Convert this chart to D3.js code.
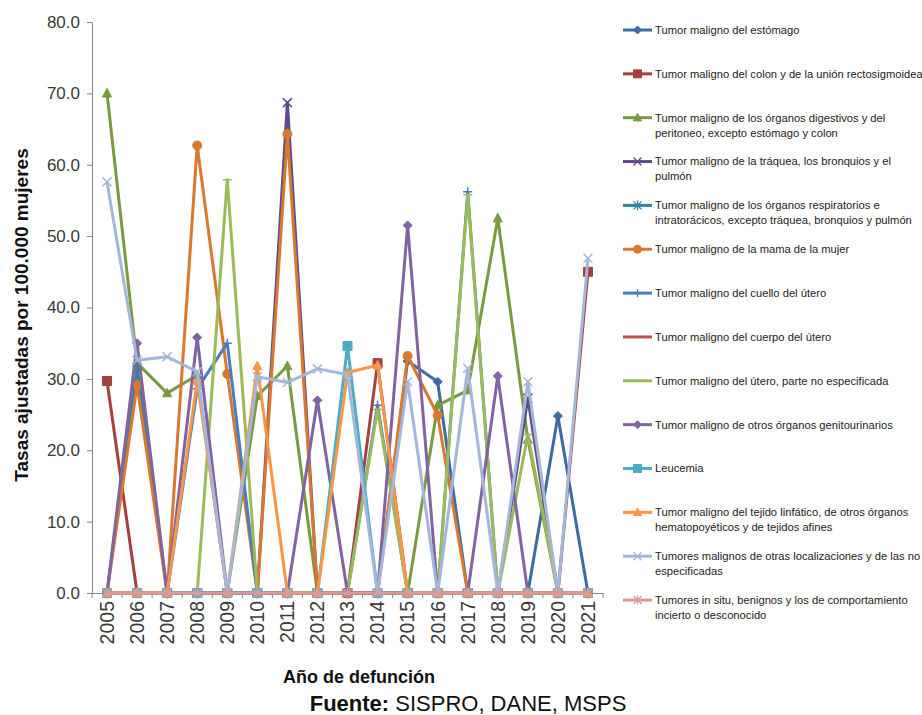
<!DOCTYPE html>
<html>
<head>
<meta charset="utf-8">
<script src="https://cdn.jsdelivr.net/npm/d3@7"></script>
<style>
  html, body { margin: 0; padding: 0; background: #fff; }
  svg { display: block; }
  text { font-family: "Liberation Sans", Arial, sans-serif; }
</style>
</head>
<body>
<svg id="chart" width="922" height="715"></svg>
<script>
const years = [2005, 2006, 2007, 2008, 2009, 2010, 2011, 2012, 2013, 2014, 2015, 2016, 2017, 2018, 2019, 2020, 2021];
const yTicks = [0, 10, 20, 30, 40, 50, 60, 70, 80];

const estomago        = [0, 0, 0, 0, 0, 0, 0, 0, 0, 0, 32.5, 29.6, 0, 0, 0, 24.8, 0];
const colon           = [29.7, 0, 0, 0, 0, 0, 0, 0, 0, 32.2, 0, 0, 0, 0, 0, 0, 45.0];
const digestivos      = [70.0, 32.2, 28.0, 30.5, 0, 27.6, 31.8, 0, 0, 0, 0, 26.3, 28.4, 52.5, 21.5, 0, 0];
const traquea         = [0, 0, 0, 0, 0, 0, 68.7, 0, 0, 0, 0, 0, 0, 0, 27.3, 0, 0];
const respiratorios   = [0, 31.6, 0, 0, 0, 0, 0, 0, 0, 0, 0, 0, 0, 0, 0, 0, 0];
const mama            = [0, 29.1, 0, 62.7, 30.7, 0, 64.3, 0, 0, 0, 33.2, 24.9, 0, 0, 0, 0, 0];
const cuello          = [0, 0, 0, 28.6, 35.0, 0, 0, 0, 0, 26.3, 0, 0, 56.2, 0, 0, 0, 0];
const cuerpo          = [0, 0, 0, 0, 0, 0, 0, 0, 0, 0, 0, 0, 0, 0, 0, 0, 0];
const uteroNoEsp      = [0, 0, 0, 0, 57.9, 0, 0, 0, 0, 25.7, 0, 0, 55.8, 0, 22.2, 0, 0];
const genitourinarios = [0, 35.0, 0, 35.8, 0, 0, 0, 27.0, 0, 0, 51.5, 0, 0, 30.4, 0, 0, 0];
const leucemia        = [0, 0, 0, 0, 0, 0, 0, 0, 34.6, 0, 0, 0, 0, 0, 0, 0, 0];
const linfatico       = [0, 0, 0, 29.7, 0, 31.8, 0, 0, 30.9, 31.9, 0, 0, 0, 0, 0, 0, 0];
const otras           = [57.6, 32.6, 33.1, 31.0, 0, 30.3, 29.5, 31.4, 30.6, 0, 29.6, 0, 31.5, 0, 29.6, 0, 46.9];
const inSitu          = [0, 0, 0, 0, 0, 0, 0, 0, 0, 0, 0, 0, 0, 0, 0, 0, 0];

const seriesNames = [
  ["Tumor maligno del estómago"],
  ["Tumor maligno del colon y de la unión rectosigmoidea"],
  ["Tumor maligno de los órganos digestivos y del", "peritoneo, excepto estómago y colon"],
  ["Tumor maligno de la tráquea, los bronquios y el", "pulmón"],
  ["Tumor maligno de los órganos respiratorios e", "intratorácicos, excepto tráquea, bronquios y pulmón"],
  ["Tumor maligno de la mama de la mujer"],
  ["Tumor maligno del cuello del útero"],
  ["Tumor maligno del cuerpo del útero"],
  ["Tumor maligno del útero, parte no especificada"],
  ["Tumor maligno de otros órganos genitourinarios"],
  ["Leucemia"],
  ["Tumor maligno del tejido linfático, de otros órganos", "hematopoyéticos y de tejidos afines"],
  ["Tumores malignos de otras localizaciones y de las no", "especificadas"],
  ["Tumores in situ, benignos y los de comportamiento", "incierto o desconocido"]
];
const seriesValues = [estomago, colon, digestivos, traquea, respiratorios, mama, cuello, cuerpo,
                      uteroNoEsp, genitourinarios, leucemia, linfatico, otras, inSitu];
const seriesColors = ["#3D6AA1", "#A5403C", "#7A9A3F", "#604A8A", "#31859C", "#D9782E", "#4A7DBF",
                      "#C0504D", "#9BBB59", "#8064A2", "#4BACC6", "#F79646", "#A4B7DA", "#DB9A99"];
const seriesMarkers = ["diamond", "square", "triangle", "x", "star", "circle", "plus",
                       "dash", "dash", "diamond", "square", "triangle", "x", "star"];

const svg = d3.select("#chart");
const plot = { left: 92, right: 603, top: 22, bottom: 593 };

const x = d3.scaleBand().domain(years).range([plot.left, plot.right]);
const y = d3.scaleLinear().domain([0, 80]).range([plot.bottom, plot.top]);
const cx = d => x(d) + x.bandwidth() / 2;

// Y axis
const yAxis = svg.append("g")
  .attr("transform", `translate(${plot.left},0)`)
  .call(d3.axisLeft(y).tickValues(yTicks).tickFormat(d3.format(".1f")).tickSize(5).tickPadding(7));
yAxis.select(".domain").attr("stroke", "#868686").attr("stroke-width", 1);
yAxis.selectAll(".tick line").attr("stroke", "#868686");
yAxis.selectAll(".tick text")
  .style("font-family", "'Liberation Sans', Arial, sans-serif")
  .attr("font-size", 17).attr("fill", "#3a3a3a");

// X axis
const xAxis = svg.append("g")
  .attr("transform", `translate(0,${plot.bottom})`)
  .call(d3.axisBottom(x).tickSize(0).tickPadding(0));
xAxis.select(".domain").attr("stroke", "#868686").attr("stroke-width", 1);
xAxis.selectAll(".tick text")
  .style("font-family", "'Liberation Sans', Arial, sans-serif")
  .attr("font-size", 19.5).attr("fill", "#3a3a3a")
  .attr("text-anchor", "end")
  .attr("transform", "rotate(-90)")
  .attr("x", -8).attr("y", 0).attr("dy", "0.35em");
// category boundary ticks
xAxis.selectAll("line.bound")
  .data(years.concat(["end"]))
  .enter().append("line")
  .attr("class", "bound")
  .attr("x1", d => d === "end" ? plot.right : x(d))
  .attr("x2", d => d === "end" ? plot.right : x(d))
  .attr("y1", 0).attr("y2", 5)
  .attr("stroke", "#868686");

// Lines
const line = d3.line().x((d, i) => cx(years[i])).y(d => y(d));

const symbolPath = (type, s) => {
  switch (type) {
    case "diamond": return `M0,${-s}L${s},0L0,${s}L${-s},0Z`;
    case "square": return `M${-s},${-s}H${s}V${s}H${-s}Z`;
    case "triangle": return `M0,${-s * 1.1}L${s},${s * 0.8}L${-s},${s * 0.8}Z`;
    case "x": return `M${-s},${-s}L${s},${s}M${-s},${s}L${s},${-s}`;
    case "star": return `M${-s},${-s}L${s},${s}M${-s},${s}L${s},${-s}M0,${-s * 1.2}V${s * 1.2}`;
    case "plus": return `M${-s},0H${s}M0,${-s}V${s}`;
    case "dash": return `M${-s},0H${s}`;
    case "circle": return `M${-s},0A${s},${s} 0 1,0 ${s},0A${s},${s} 0 1,0 ${-s},0Z`;
  }
};
const filled = t => ["diamond", "square", "triangle", "circle"].includes(t);

const series = svg.append("g").attr("class", "series");
seriesValues.forEach((vals, k) => {
  const g = series.append("g");
  g.append("path")
    .attr("d", line(vals))
    .attr("fill", "none")
    .attr("stroke", seriesColors[k])
    .attr("stroke-width", 3)
    .attr("stroke-linejoin", "round");
  const m = seriesMarkers[k];
  const s = 4.5;
  g.selectAll("path.mk").data(vals).enter().append("path")
    .attr("class", "mk")
    .attr("transform", (d, i) => `translate(${cx(years[i])},${y(d)})`)
    .attr("d", symbolPath(m, s))
    .attr("fill", filled(m) ? seriesColors[k] : "none")
    .attr("stroke", seriesColors[k])
    .attr("stroke-width", filled(m) ? 1 : 1.5);
});

// Legend
const legend = svg.append("g").attr("class", "legend");
seriesNames.forEach((lines, k) => {
  const ly = 30 + k * 43.85;
  const g = legend.append("g").attr("transform", `translate(0,${ly})`);
  g.append("line").attr("x1", 623).attr("x2", 652).attr("y1", 0).attr("y2", 0)
    .attr("stroke", seriesColors[k]).attr("stroke-width", 3);
  const m = seriesMarkers[k];
  if (m !== "dash") {
    g.append("path").attr("transform", "translate(637.5,0)")
      .attr("d", symbolPath(m, 4))
      .attr("fill", filled(m) ? seriesColors[k] : "none")
      .attr("stroke", seriesColors[k]).attr("stroke-width", filled(m) ? 1 : 1.3);
  }
  lines.forEach((t, j) => {
    g.append("text").attr("x", 655).attr("y", j * 15).attr("dy", "0.35em")
      .attr("font-size", 11.2).attr("fill", "#222").text(t);
  });
});

// Axis titles
svg.append("text")
  .attr("transform", "translate(28,315) rotate(-90)")
  .attr("text-anchor", "middle")
  .attr("font-size", 19).attr("font-weight", "bold").attr("fill", "#111")
  .text("Tasas ajustadas por 100.000 mujeres");

svg.append("text")
  .attr("x", 359).attr("y", 683)
  .attr("text-anchor", "middle")
  .attr("font-size", 18).attr("font-weight", "bold").attr("fill", "#111")
  .text("Año de defunción");

const src = svg.append("text")
  .attr("x", 468).attr("y", 711)
  .attr("text-anchor", "middle")
  .attr("font-size", 22).attr("fill", "#111");
src.append("tspan").attr("font-weight", "bold").text("Fuente: ");
src.append("tspan").text("SISPRO, DANE, MSPS");
</script>
</body>
</html>
